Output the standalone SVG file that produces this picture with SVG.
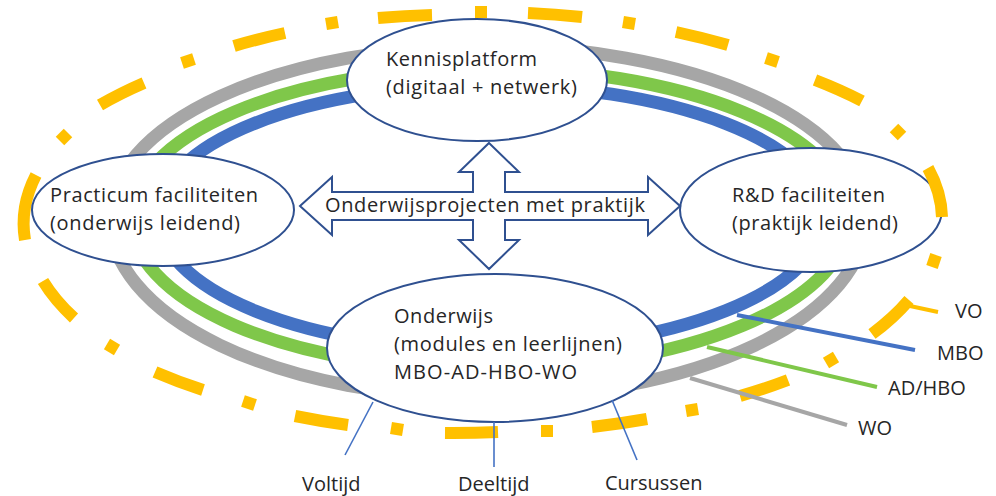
<svg xmlns="http://www.w3.org/2000/svg" width="996" height="496" viewBox="0 0 996 496">
<style>
.ring{fill:none;stroke-width:13}
.node{fill:#fff;stroke:#2F5090;stroke-width:2}
.t{font-family:"Open Sans","Liberation Sans",sans-serif;font-size:20px;fill:#262626}
.orange path{fill:none;stroke:#FFC000;stroke-width:12;stroke-linecap:butt}
.conn{fill:none;stroke-width:4}
.thin{fill:none;stroke:#4472C4;stroke-width:1.6}
</style>
<rect width="996" height="496" fill="#fff"/>
<g id="rings">
<path class="ring" stroke="#A6A6A6" d="M110 218 A376 172 0 0 1 486 46 A380 172 0 0 1 866 218 A380 180 0 0 1 486 398 A376 180 0 0 1 110 218 Z"/>
<path class="ring" stroke="#7FC74A" d="M131 218 A354 150 0 0 1 485 68 A364 150 0 0 1 849 218 A364 152 0 0 1 485 370 A354 152 0 0 1 131 218 Z"/>
<path class="ring" stroke="#4472C4" d="M158 216 A330 131 0 0 1 488 85 A336 131 0 0 1 824 216 A336 134 0 0 1 488 350 A330 134 0 0 1 158 216 Z"/>
</g>
<g id="rd">
<ellipse class="node" cx="811" cy="210" rx="131" ry="62"/>
<text class="t" x="732" y="202" textLength="153">R&amp;D faciliteiten</text>
<text class="t" x="732" y="230" textLength="166">(praktijk leidend)</text>
</g>
<g id="vo-ring" class="orange">
<path d="M928 168 A455 210 0 0 1 942 217"/>
<path d="M909 300 A455 210 0 0 1 872 334"/>
<path d="M788 380 A455 210 0 0 1 740 396"/>
<path d="M647 419 A455 210 0 0 1 592 427"/>
<path d="M498 432 A455 210 0 0 1 445 433"/>
<path d="M348 425 A455 210 0 0 1 295 416"/>
<path d="M203 390 A455 210 0 0 1 155 372"/>
<path d="M74 318 A455 210 0 0 1 43 281"/>
<path d="M25 240 A455 210 0 0 1 36 175"/>
<path d="M100 105 A455 210 0 0 1 144 83"/>
<path d="M234 46 A455 210 0 0 1 285 33"/>
<path d="M378 18 A455 210 0 0 1 432 15"/>
<path d="M528 13 A455 210 0 0 1 582 17"/>
<path d="M676 32 A455 210 0 0 1 728 45"/>
<path d="M815 80 A455 210 0 0 1 862 101"/>
<path d="M936 255 L932 267"/>
<path d="M836 357 L826 363"/>
<path d="M698 409 L686 411"/>
<path d="M553 431 L541 431"/>
<path d="M403 430 L391 428"/>
<path d="M255 405 L243 401"/>
<path d="M117 350 L107 344"/>
<path d="M60 141 L68 133"/>
<path d="M182 63 L194 59"/>
<path d="M326 24 L338 22"/>
<path d="M475 12 L487 12"/>
<path d="M623 22 L635 24"/>
<path d="M766 58 L778 62"/>
<path d="M894 128 L902 136"/>
</g>
<g id="practicum">
<ellipse class="node" cx="163" cy="210" rx="131" ry="56"/>
<text class="t" x="50" y="202" textLength="208">Practicum faciliteiten</text>
<text class="t" x="50" y="230" textLength="190">(onderwijs leidend)</text>
</g>
<g id="kennisplatform">
<ellipse class="node" cx="477" cy="80" rx="130" ry="61"/>
<text class="t" x="386" y="66" textLength="151">Kennisplatform</text>
<text class="t" x="386" y="94" textLength="191">(digitaal + netwerk)</text>
</g>
<g id="onderwijs">
<ellipse class="node" cx="495" cy="348" rx="168" ry="74"/>
<text class="t" x="394" y="323" textLength="99">Onderwijs</text>
<text class="t" x="394" y="351" textLength="228">(modules en leerlijnen)</text>
<text class="t" x="394" y="379" textLength="183">MBO-AD-HBO-WO</text>
</g>
<g id="onderwijsprojecten">
<polygon class="node" points="489,143 519,172 505,172 505,192 648,192 648,177 680,206 648,235 648,220 505,220 505,240 519,240 489,269 459,240 473,240 473,220 332,220 332,235 300,206 332,177 332,192 473,192 473,172 459,172"/>
<text class="t" x="325" y="212" textLength="320">Onderwijsprojecten met praktijk</text>
</g>
<g id="connectors">
<line class="conn" x1="737" y1="315" x2="915" y2="350" stroke="#4472C4"/>
<line class="conn" x1="707" y1="347" x2="877" y2="387" stroke="#7FC74A"/>
<line class="conn" x1="690" y1="378" x2="847" y2="425" stroke="#A6A6A6"/>
<line class="conn" x1="910" y1="306" x2="938" y2="312" stroke="#FFC000"/>
<line class="thin" x1="373" y1="402" x2="345" y2="455"/>
<line class="thin" x1="494" y1="422" x2="494" y2="467"/>
<line class="thin" x1="612" y1="400" x2="637" y2="460"/>
</g>
<g id="labels">
<text class="t" x="302" y="491">Voltijd</text>
<text class="t" x="458" y="491">Deeltijd</text>
<text class="t" x="605" y="490">Cursussen</text>
<text class="t" x="955" y="318">VO</text>
<text class="t" x="937" y="360">MBO</text>
<text class="t" x="888" y="395">AD/HBO</text>
<text class="t" x="858" y="435">WO</text>
</g>
</svg>
